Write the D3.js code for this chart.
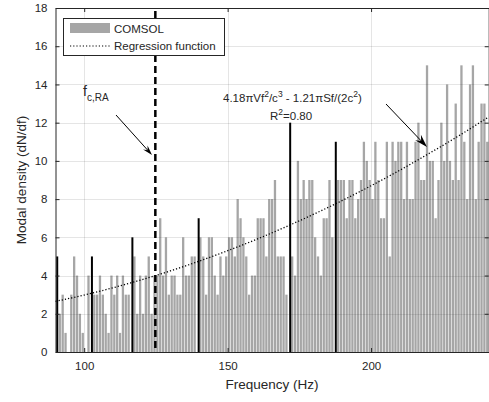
<!DOCTYPE html>
<html>
<head>
<meta charset="utf-8">
<script src="https://cdn.jsdelivr.net/npm/d3@7"></script>
<style>
  body { margin: 0; background: #fff; }
  text { font-family: Arial, 'Liberation Sans', sans-serif; fill: #262626; }
</style>
</head>
<body>
<svg width="489" height="402"></svg>
<script>
// modal counts per 1 Hz bin, starting at 90 Hz
let binStart = 90;
let counts = [
  0, 2, 3, 1, 0, 3, 5, 4, 2, 1,      // 90-99
  0, 4, 0, 3, 3, 4, 3, 2, 1, 4,      // 100-109
  3, 4, 1, 4, 3, 3, 0, 5, 2, 4,      // 110-119
  2, 4, 5, 2, 4, 4, 7, 4, 6, 3,      // 120-129
  4, 4, 3, 3, 6, 4, 4, 5, 5, 0,      // 130-139
  6, 5, 3, 6, 6, 4, 3, 5, 4, 5,      // 140-149
  6, 6, 5, 8, 7, 6, 5, 3, 4, 4,      // 150-159
  7, 7, 7, 5, 8, 8, 9, 5, 5, 5,      // 160-169
  3, 0, 5, 4, 10, 8, 9, 8, 9, 9,     // 170-179
  6, 5, 4, 7, 7, 9, 6, 0, 9, 9,      // 180-189
  9, 7, 9, 9, 7, 8, 9, 11, 10, 9,    // 190-199
  8, 11, 9, 7, 7, 11, 5, 11, 10, 11, // 200-209
  11, 8, 11, 8, 8, 11, 12, 9, 9, 15, // 210-219
  10, 10, 7, 9, 12, 10, 14, 10, 9, 13, // 220-229
  9, 15, 11, 8, 14, 15, 8, 11, 13, 13, // 230-239
  11                                  // 240
];

// highlighted modes (black stems)
let modeFreqs = [90.6, 102.7, 116.8, 139.9, 171.8, 187.7];
let modeCounts = [5, 5, 6, 7, 12, 11];

// regression curve
let regFreqs = [90, 100, 110, 120, 130, 140, 150, 160, 170, 180, 190, 200, 210, 220, 230, 241];
let regValues = [2.65, 2.98, 3.36, 3.78, 4.24, 4.75, 5.3, 5.89, 6.53, 7.21, 7.93, 8.7, 9.51, 10.37, 11.26, 12.3];

let fcRA = 124.8;

let xTicks = [100, 150, 200];
let yTicks = [0, 2, 4, 6, 8, 10, 12, 14, 16, 18];

let svg = d3.select('svg');
let pLeft = 55.5, pRight = 488.7, pTop = 8, pBottom = 352;

let x = d3.scaleLinear().domain([90, 241]).range([pLeft, pRight]);
let y = d3.scaleLinear().domain([0, 18]).range([pBottom, pTop]);

let bins = counts.map((c, i) => ({ f: binStart + i, c: c }));

// bars
svg.append('g')
  .selectAll('rect')
  .data(bins.filter((d) => d.c > 0))
  .enter()
  .append('rect')
  .attr('x', (d) => x(d.f + 0.1))
  .attr('width', (d) => x(d.f + 0.9) - x(d.f + 0.1))
  .attr('y', (d) => y(d.c))
  .attr('height', (d) => y(0) - y(d.c))
  .attr('fill', '#a6a6a6');

// grid
let grid = svg.append('g').attr('stroke', '#262626').attr('stroke-opacity', 0.12).attr('stroke-width', 1);
yTicks.slice(1, -1).forEach((t) => {
  grid.append('line').attr('x1', pLeft).attr('x2', pRight).attr('y1', Math.round(y(t)) + 0.5).attr('y2', Math.round(y(t)) + 0.5);
});
xTicks.forEach((t) => {
  grid.append('line').attr('y1', pTop).attr('y2', pBottom).attr('x1', Math.round(x(t)) + 0.5).attr('x2', Math.round(x(t)) + 0.5);
});

// black mode stems
svg.append('g')
  .selectAll('line')
  .data(modeFreqs.map((f, i) => ({ f: f, c: modeCounts[i] })))
  .enter()
  .append('line')
  .attr('x1', (d) => x(d.f))
  .attr('x2', (d) => x(d.f))
  .attr('y1', y(0))
  .attr('y2', (d) => y(d.c))
  .attr('stroke', '#000')
  .attr('stroke-width', 2);

// regression curve
let line = d3.line()
  .x((d) => x(d[0]))
  .y((d) => y(d[1]))
  .curve(d3.curveMonotoneX);

svg.append('path')
  .datum(regFreqs.map((f, i) => [f, regValues[i]]))
  .attr('d', line)
  .attr('fill', 'none')
  .attr('stroke', '#000')
  .attr('stroke-width', 1.3)
  .attr('stroke-dasharray', '1.2,2');

// f_c,RA dashed line
svg.append('line')
  .attr('x1', x(fcRA)).attr('x2', x(fcRA))
  .attr('y1', pTop + 3).attr('y2', pBottom)
  .attr('stroke', '#000')
  .attr('stroke-width', 2.5)
  .attr('stroke-dasharray', '7,4');

// axes
let axisColor = '#262626';
let xAxis = d3.axisBottom(x).tickValues(xTicks).tickSizeInner(-4).tickSizeOuter(0).tickPadding(10);
let yAxis = d3.axisLeft(y).tickValues(yTicks).tickSizeInner(-4).tickSizeOuter(0).tickPadding(8);

svg.append('g').attr('transform', `translate(0,${pBottom})`).call(xAxis);
svg.append('g').attr('transform', `translate(${pLeft},0)`).call(yAxis);
svg.append('g').attr('transform', `translate(0,${pTop})`).call(d3.axisTop(x).tickValues(xTicks).tickSizeInner(-4).tickSizeOuter(0).tickFormat(''));
svg.append('g').attr('transform', `translate(${pRight},0)`).call(d3.axisRight(y).tickValues(yTicks).tickSizeInner(-4).tickSizeOuter(0).tickFormat(''));

svg.selectAll('.domain').attr('stroke', axisColor);
svg.selectAll('.tick line').attr('stroke', axisColor);
svg.selectAll('.tick text').attr('font-size', 11.5).attr('font-family', 'Arial, Liberation Sans, sans-serif').attr('fill', axisColor);

// axis labels
svg.append('text')
  .attr('x', (pLeft + pRight) / 2)
  .attr('y', 389)
  .attr('text-anchor', 'middle')
  .attr('font-size', 13.5)
  .text('Frequency (Hz)');

svg.append('text')
  .attr('transform', `translate(26,${(pTop + pBottom) / 2}) rotate(-90)`)
  .attr('text-anchor', 'middle')
  .attr('font-size', 13.5)
  .text('Modal density (dN/df)');

// legend
let lg = svg.append('g');
lg.append('rect').attr('x', 63.5).attr('y', 18.5).attr('width', 161).attr('height', 37)
  .attr('fill', '#fff').attr('stroke', axisColor).attr('stroke-width', 1);
lg.append('rect').attr('x', 70).attr('y', 23).attr('width', 40).attr('height', 10).attr('fill', '#a6a6a6');
lg.append('text').attr('x', 114).attr('y', 32.5).attr('font-size', 11.5).text('COMSOL');
lg.append('line').attr('x1', 70).attr('x2', 110).attr('y1', 46).attr('y2', 46)
  .attr('stroke', '#000').attr('stroke-width', 1.2).attr('stroke-dasharray', '1.2,2');
lg.append('text').attr('x', 114).attr('y', 50).attr('font-size', 11.5).text('Regression function');

// annotations
function arrow(x1, y1, x2, y2, headLen, headW) {
  let a = Math.atan2(y2 - y1, x2 - x1);
  svg.append('line').attr('x1', x1).attr('y1', y1)
    .attr('x2', x2 - Math.cos(a) * headLen * 0.6).attr('y2', y2 - Math.sin(a) * headLen * 0.6)
    .attr('stroke', '#000').attr('stroke-width', 1);
  let bx = x2 - Math.cos(a) * headLen, by = y2 - Math.sin(a) * headLen;
  let px = -Math.sin(a) * headW / 2, py = Math.cos(a) * headW / 2;
  let mx = x2 - Math.cos(a) * headLen * 0.65, my = y2 - Math.sin(a) * headLen * 0.65;
  svg.append('path')
    .attr('d', `M${x2},${y2}L${bx + px},${by + py}L${mx},${my}L${bx - px},${by - py}Z`)
    .attr('fill', '#000');
}

let fc = svg.append('text').attr('x', 83).attr('y', 96).attr('font-size', 14).attr('fill', '#000');
fc.append('tspan').text('f');
fc.append('tspan').attr('dy', 5).attr('font-size', 10).text('c,RA');
arrow(116, 115, 152, 155, 10, 6);

let eq = svg.append('text').attr('x', 223).attr('y', 102).attr('font-size', 11.5).attr('fill', '#000');
eq.append('tspan').text('4.18\u03c0Vf');
eq.append('tspan').attr('dy', -5).attr('font-size', 8.5).text('2');
eq.append('tspan').attr('dy', 5).text('/c');
eq.append('tspan').attr('dy', -5).attr('font-size', 8.5).text('3');
eq.append('tspan').attr('dy', 5).text(' - 1.21\u03c0Sf/(2c');
eq.append('tspan').attr('dy', -5).attr('font-size', 8.5).text('2');
eq.append('tspan').attr('dy', 5).text(')');

let r2 = svg.append('text').attr('x', 270).attr('y', 120).attr('font-size', 11.5).attr('fill', '#000');
r2.append('tspan').text('R');
r2.append('tspan').attr('dy', -5).attr('font-size', 8.5).text('2');
r2.append('tspan').attr('dy', 5).text('=0.80');
arrow(386, 104, 427, 147, 13, 8);
</script>
</body>
</html>
